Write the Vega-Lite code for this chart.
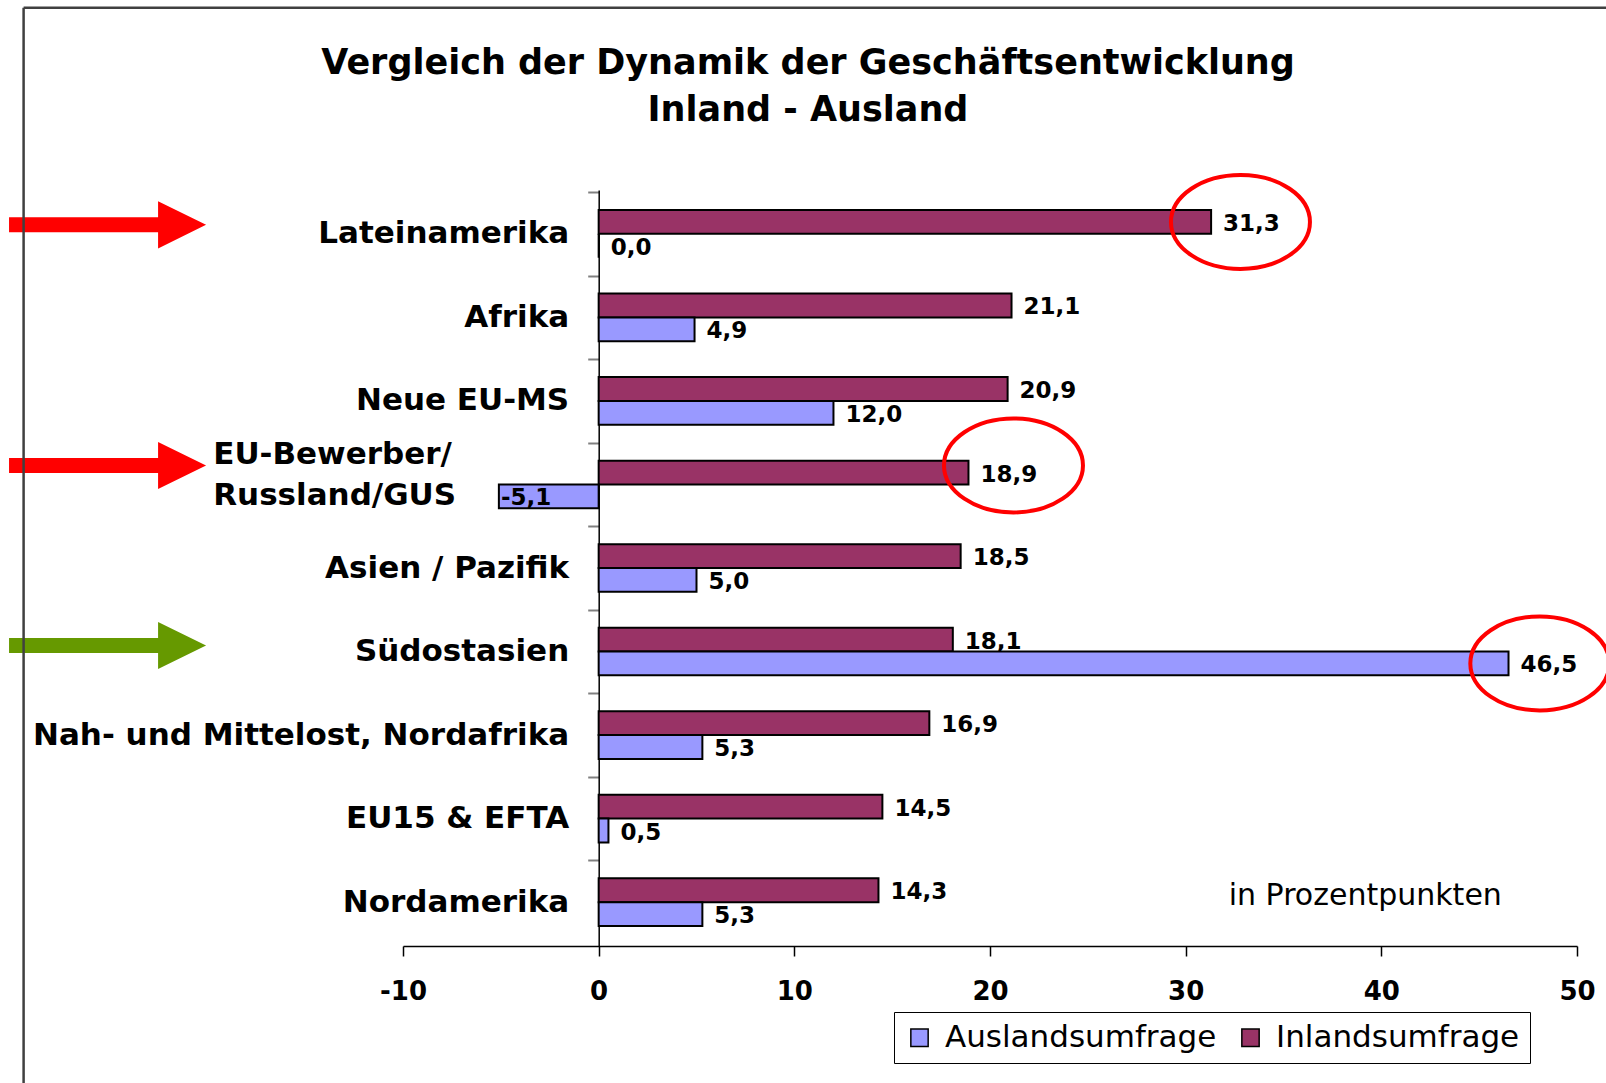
{
  "$schema": "https://vega.github.io/schema/vega-lite/v6.json",
  "autosize": {"type": "none"},
  "padding": {"left": 403, "top": 190, "right": 29, "bottom": 137},
  "width": 1174,
  "height": 756,
  "background": "white",
  "title": {
    "text": ["Vergleich der Dynamik der Geschäftsentwicklung", "Inland - Ausland"],
    "font": "DejaVu Sans",
    "fontWeight": "bold",
    "fontSize": 35,
    "lineHeight": 47,
    "color": "black",
    "anchor": "middle",
    "frame": "group",
    "dx": -182,
    "offset": -121
  },
  "config": {
    "locale": {"number": {"decimal": ",", "thousands": ".", "grouping": [3], "currency": ["", " €"], "minus": "-"}},
    "view": {"stroke": null},
    "legend": {
      "labelFont": "DejaVu Sans",
      "labelFontSize": 31,
      "labelColor": "black",
      "labelLimit": 1000,
      "symbolType": "square",
      "symbolSize": 300,
      "symbolStrokeColor": "black",
      "symbolStrokeWidth": 1.5,
      "strokeColor": "black",
      "fillColor": "white",
      "padding": 10,
      "columnPadding": 18,
      "labelOffset": 10
    }
  },
  "datasets": {
    "bars": [
      {"region": "Lateinamerika", "series": "Inlandsumfrage", "value": 31.3},
      {"region": "Lateinamerika", "series": "Auslandsumfrage", "value": 0.0},
      {"region": "Afrika", "series": "Inlandsumfrage", "value": 21.1},
      {"region": "Afrika", "series": "Auslandsumfrage", "value": 4.9},
      {"region": "Neue EU-MS", "series": "Inlandsumfrage", "value": 20.9},
      {"region": "Neue EU-MS", "series": "Auslandsumfrage", "value": 12.0},
      {"region": "EU-Bewerber/ Russland/GUS", "series": "Inlandsumfrage", "value": 18.9},
      {"region": "EU-Bewerber/ Russland/GUS", "series": "Auslandsumfrage", "value": -5.1},
      {"region": "Asien / Pazifik", "series": "Inlandsumfrage", "value": 18.5},
      {"region": "Asien / Pazifik", "series": "Auslandsumfrage", "value": 5.0},
      {"region": "Südostasien", "series": "Inlandsumfrage", "value": 18.1},
      {"region": "Südostasien", "series": "Auslandsumfrage", "value": 46.5},
      {"region": "Nah- und Mittelost, Nordafrika", "series": "Inlandsumfrage", "value": 16.9},
      {"region": "Nah- und Mittelost, Nordafrika", "series": "Auslandsumfrage", "value": 5.3},
      {"region": "EU15 & EFTA", "series": "Inlandsumfrage", "value": 14.5},
      {"region": "EU15 & EFTA", "series": "Auslandsumfrage", "value": 0.5},
      {"region": "Nordamerika", "series": "Inlandsumfrage", "value": 14.3},
      {"region": "Nordamerika", "series": "Auslandsumfrage", "value": 5.3}
    ],
    "ellipses": [
      {"region": "Lateinamerika", "series": "Inlandsumfrage", "pos": 32.8},
      {"region": "Südostasien", "series": "Auslandsumfrage", "pos": 48.1}
    ],
    "ellipse2": [
      {"region": "EU-Bewerber/ Russland/GUS", "pos": 21.2}
    ],
    "arrow1": [{"region": "Lateinamerika", "pos": -25.1}],
    "arrow2": [{"region": "EU-Bewerber/ Russland/GUS", "pos": -25.1}],
    "arrow3": [{"region": "Südostasien", "pos": -25.1}],
    "note": [
      {"region": "Nordamerika", "series": "Inlandsumfrage", "pos": 32.2, "label": "in Prozentpunkten"}
    ]
  },
  "resolve": {"scale": {"y": "independent"}, "axis": {"y": "independent"}},
  "layer": [
    {
      "encoding": {
        "y": {
          "field": "region",
          "type": "nominal",
          "sort": ["Lateinamerika", "Afrika", "Neue EU-MS", "EU-Bewerber/ Russland/GUS", "Asien / Pazifik", "Südostasien", "Nah- und Mittelost, Nordafrika", "EU15 & EFTA", "Nordamerika"],
          "scale": {"paddingInner": 0.43, "paddingOuter": 0.24},
          "axis": {
            "title": null,
            "offset": -195.7,
            "domainColor": "black",
            "domainWidth": 1.5,
            "tickColor": "#808080",
            "tickWidth": 2,
            "tickSize": 11,
            "tickOffset": -41.8,
            "labelFont": "DejaVu Sans",
            "labelFontWeight": "bold",
            "labelFontSize": 31,
            "labelColor": "black",
            "labelLimit": 1000,
            "labelLineHeight": 41,
            "labelPadding": {"condition": {"test": "datum.value == 'EU-Bewerber/ Russland/GUS'", "value": 375}, "value": 19},
            "labelAlign": {"condition": {"test": "datum.value == 'EU-Bewerber/ Russland/GUS'", "value": "left"}, "value": "right"},
            "labelOffset": {"condition": {"test": "datum.value == 'EU-Bewerber/ Russland/GUS'", "value": 12}, "value": 41.8},
            "labelExpr": "datum.value == 'EU-Bewerber/ Russland/GUS' ? ['EU-Bewerber/', 'Russland/GUS'] : datum.label"
          }
        }
      },
      "layer": [
        {
          "data": {"name": "bars"},
          "mark": {"type": "bar", "stroke": "black", "strokeWidth": 2},
          "encoding": {
            "x": {
              "field": "value",
              "type": "quantitative",
              "scale": {"domain": [-10, 50], "nice": false},
              "axis": {
                "title": null,
                "values": [-10, 0, 10, 20, 30, 40, 50],
                "format": "d",
                "grid": false,
                "labelFlush": false,
                "domainColor": "black",
                "domainWidth": 1.5,
                "tickColor": "black",
                "tickWidth": 1.5,
                "tickSize": 10,
                "labelFont": "DejaVu Sans",
                "labelFontWeight": "bold",
                "labelFontSize": 26,
                "labelColor": "black",
                "labelPadding": 22
              }
            },
            "yOffset": {"field": "series", "type": "nominal", "sort": ["Inlandsumfrage", "Auslandsumfrage"], "scale": {"paddingInner": 0, "paddingOuter": 0}},
            "color": {
              "field": "series",
              "type": "nominal",
              "scale": {"domain": ["Auslandsumfrage", "Inlandsumfrage"], "range": ["#9999FF", "#993366"]},
              "legend": {"title": null, "orient": "none", "legendX": 491, "legendY": 822, "direction": "horizontal"}
            }
          }
        },
        {
          "data": {"name": "bars"},
          "transform": [{"filter": "datum.value >= 0"}],
          "mark": {"type": "text", "align": "left", "baseline": "middle", "dx": 12, "dy": 2, "font": "DejaVu Sans", "fontWeight": "bold", "fontSize": 23, "color": "black"},
          "encoding": {
            "x": {"field": "value", "type": "quantitative"},
            "yOffset": {"field": "series", "type": "nominal", "sort": ["Inlandsumfrage", "Auslandsumfrage"]},
            "text": {"field": "value", "type": "quantitative", "format": ".1f"}
          }
        },
        {
          "data": {"name": "bars"},
          "transform": [{"filter": "datum.value < 0"}],
          "mark": {"type": "text", "align": "left", "baseline": "middle", "dx": 2, "dy": 2, "font": "DejaVu Sans", "fontWeight": "bold", "fontSize": 23, "color": "black"},
          "encoding": {
            "x": {"field": "value", "type": "quantitative"},
            "yOffset": {"field": "series", "type": "nominal", "sort": ["Inlandsumfrage", "Auslandsumfrage"]},
            "text": {"field": "value", "type": "quantitative", "format": ".1f"}
          }
        },
        {
          "data": {"name": "ellipses"},
          "mark": {"type": "point", "shape": "M-1,0A1,0.676,0,1,0,1,0A1,0.676,0,1,0,-1,0Z", "size": 19321, "filled": false, "stroke": "#FF0000", "strokeWidth": 4, "opacity": 1},
          "encoding": {
            "x": {"field": "pos", "type": "quantitative"},
            "yOffset": {"field": "series", "type": "nominal", "sort": ["Inlandsumfrage", "Auslandsumfrage"]}
          }
        },
        {
          "data": {"name": "ellipse2"},
          "mark": {"type": "point", "shape": "M-1,0A1,0.676,0,1,0,1,0A1,0.676,0,1,0,-1,0Z", "size": 19321, "filled": false, "stroke": "#FF0000", "strokeWidth": 4, "opacity": 1, "yOffset": -19},
          "encoding": {"x": {"field": "pos", "type": "quantitative"}}
        },
        {
          "data": {"name": "arrow1"},
          "mark": {"type": "point", "shape": "M-1,-0.076L0.513,-0.076L0.513,-0.239L1,0L0.513,0.239L0.513,0.076L-1,0.076Z", "size": 38809, "filled": true, "fill": "#FF0000", "strokeWidth": 0, "opacity": 1, "yOffset": -9},
          "encoding": {"x": {"field": "pos", "type": "quantitative"}}
        },
        {
          "data": {"name": "arrow2"},
          "mark": {"type": "point", "shape": "M-1,-0.076L0.513,-0.076L0.513,-0.239L1,0L0.513,0.239L0.513,0.076L-1,0.076Z", "size": 38809, "filled": true, "fill": "#FF0000", "strokeWidth": 0, "opacity": 1, "yOffset": -19},
          "encoding": {"x": {"field": "pos", "type": "quantitative"}}
        },
        {
          "data": {"name": "arrow3"},
          "mark": {"type": "point", "shape": "M-1,-0.076L0.513,-0.076L0.513,-0.239L1,0L0.513,0.239L0.513,0.076L-1,0.076Z", "size": 38809, "filled": true, "fill": "#669900", "strokeWidth": 0, "opacity": 1, "yOffset": -6},
          "encoding": {"x": {"field": "pos", "type": "quantitative"}}
        },
        {
          "data": {"name": "note"},
          "mark": {"type": "text", "align": "left", "baseline": "middle", "dy": 6, "font": "DejaVu Sans", "fontSize": 30, "color": "black"},
          "encoding": {
            "x": {"field": "pos", "type": "quantitative"},
            "yOffset": {"field": "series", "type": "nominal", "sort": ["Inlandsumfrage", "Auslandsumfrage"]},
            "text": {"field": "label", "type": "nominal"}
          }
        }
      ]
    },
    {
      "data": {"values": [{"frame": "left"}]},
      "mark": {"type": "rule", "stroke": "#404040", "strokeWidth": 2.5},
      "encoding": {
        "x": {"datum": -29.39, "type": "quantitative"},
        "y": {"datum": 1.241, "type": "quantitative", "scale": {"domain": [0, 1], "nice": false, "zero": false}, "axis": null},
        "y2": {"datum": -0.2}
      }
    },
    {
      "data": {"values": [{"frame": "top"}]},
      "mark": {"type": "rule", "stroke": "#404040", "strokeWidth": 2.5},
      "encoding": {
        "x": {"datum": -29.39, "type": "quantitative"},
        "x2": {"datum": 52},
        "y": {"datum": 1.241, "type": "quantitative", "scale": {"domain": [0, 1], "nice": false, "zero": false}, "axis": null}
      }
    }
  ]
}
